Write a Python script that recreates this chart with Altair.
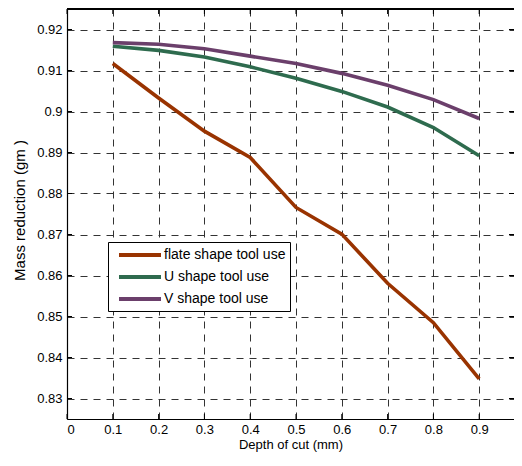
import altair as alt
import pandas as pd

depth = [0.1, 0.2, 0.3, 0.4, 0.5, 0.6, 0.7, 0.8, 0.9]
flate = [0.9117, 0.9033, 0.8952, 0.8888, 0.8766, 0.8701, 0.8581, 0.8485, 0.8348]
u_shape = [0.9159, 0.9149, 0.9133, 0.9109, 0.9081, 0.9049, 0.9011, 0.8961, 0.8892]
v_shape = [0.9168, 0.9164, 0.9153, 0.9135, 0.9117, 0.9093, 0.9064, 0.9029, 0.8983]
series = ["flate shape tool use", "U shape tool use", "V shape tool use"]
colors = ["#993300", "#2E6B4E", "#6B3F6B"]
x_ticks = [0, 0.1, 0.2, 0.3, 0.4, 0.5, 0.6, 0.7, 0.8, 0.9]
y_ticks = [0.83, 0.84, 0.85, 0.86, 0.87, 0.88, 0.89, 0.9, 0.91, 0.92]

rows = []
for name, vals in zip(series, [flate, u_shape, v_shape]):
    for d, m in zip(depth, vals):
        rows.append({"depth": d, "mass": m, "series": name})
df = pd.DataFrame(rows)

W, H = 447, 410
xscale = alt.Scale(domain=[0, 0.976], nice=False, zero=False)
yscale = alt.Scale(domain=[0.825, 0.925], nice=False, zero=False)

xaxis = alt.Axis(values=x_ticks, format=".1~f", title="Depth of cut (mm)",
                 grid=True, gridDash=[7, 6], gridColor="#333333", gridWidth=1,
                 tickSize=0, labelPadding=4, titlePadding=2,
                 domainColor="black", domainWidth=1.2)
yaxis = alt.Axis(values=y_ticks, format=".2~f", title="Mass reduction (gm )",
                 grid=True, gridDash=[7, 6], gridColor="#333333", gridWidth=1,
                 tickSize=0, labelPadding=5, titleFontSize=15,
                 titleX=-40, titleY=201, titleAngle=-90, titleBaseline="bottom",
                 domainColor="black", domainWidth=1.2)

lines = alt.Chart(df).mark_line(strokeWidth=3.6).encode(
    x=alt.X("depth:Q", scale=xscale, axis=xaxis),
    y=alt.Y("mass:Q", scale=yscale, axis=yaxis),
    color=alt.Color("series:N", scale=alt.Scale(domain=series, range=colors),
                    legend=alt.Legend(title=None, orient="none", legendX=41, legendY=233,
                                      strokeColor="black", fillColor="white", padding=4,
                                      cornerRadius=0, symbolType="M-1,0H5", symbolSize=196,
                                      symbolStrokeWidth=4, labelFontSize=14, labelOffset=29,
                                      rowPadding=5, symbolOffset=5, labelColor="black")),
    detail="series:N",
)

xt = pd.DataFrame({"depth": x_ticks})
yt = pd.DataFrame({"mass": y_ticks})

bottom_ticks = alt.Chart(xt).mark_rule(color="black").encode(
    x=alt.X("depth:Q", scale=xscale, axis=xaxis), y=alt.value(H - 5), y2=alt.value(H))
top_ticks = alt.Chart(xt).mark_rule(color="black").encode(
    x=alt.X("depth:Q", scale=xscale, axis=xaxis), y=alt.value(0), y2=alt.value(5))
left_ticks = alt.Chart(yt).mark_rule(color="black").encode(
    y=alt.Y("mass:Q", scale=yscale, axis=yaxis), x=alt.value(0), x2=alt.value(5))
right_ticks = alt.Chart(yt).mark_rule(color="black").encode(
    y=alt.Y("mass:Q", scale=yscale, axis=yaxis), x=alt.value(W - 5), x2=alt.value(W))
top_border = alt.Chart(xt).mark_rule(color="black", strokeWidth=1.2).encode(
    x=alt.value(0), x2=alt.value(W), y=alt.value(0))

chart = alt.layer(
    bottom_ticks, top_ticks, left_ticks, right_ticks, lines, top_border
).properties(
    width=W, height=H,
    padding={"left": 59, "top": 1, "right": 0, "bottom": 33},
    autosize=alt.AutoSizeParams(type="none"),
).configure(
    font="Liberation Sans",
).configure_view(
    stroke=None,
).configure_axis(
    labelFontSize=13, titleFontSize=13, labelColor="black", titleColor="black",
    titleFontWeight="normal",
)

chart.save("out.html", embed_options={"renderer": "svg", "actions": False})
